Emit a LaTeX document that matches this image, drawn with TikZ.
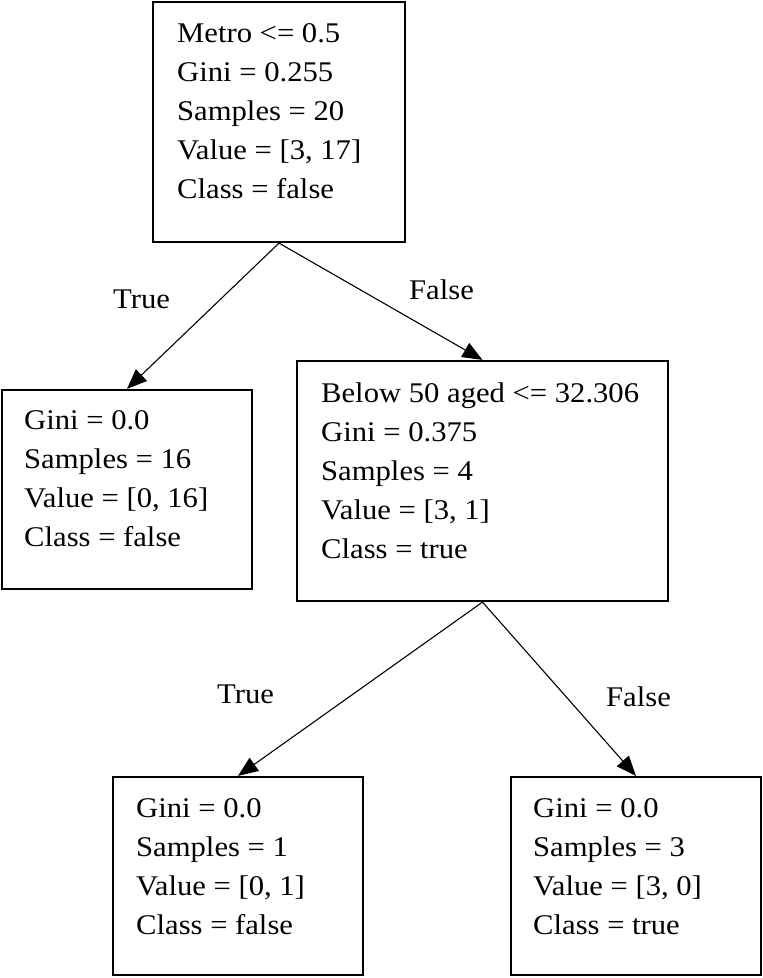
\documentclass[tikz,border=0pt]{standalone}
\usepackage{fontspec}
\setmainfont{Liberation Serif}[FakeStretch=1.075]
\usetikzlibrary{arrows.meta}
\newcommand{\boxlines}[1]{\fontsize{28.5}{39}\selectfont\begin{tabular}[t]{@{}l@{}}#1\end{tabular}}
\begin{document}
\begin{tikzpicture}[x=1pt,y=-1pt,
  treebox/.style={draw=black,line width=2.2pt,rectangle,inner sep=0pt,fill=white},
  boxtext/.style={anchor=base west,inner sep=0pt,align=left},
  edgelabel/.style={anchor=base west,inner sep=0pt,font=\fontsize{28.5}{34}\selectfont},
  conn/.style={draw=black,line width=1.1pt,-{Triangle[length=20pt,width=16pt]}}]
\useasboundingbox[fill=white] (0,0) rectangle (763,978);
% boxes
\node[treebox,minimum width=252pt,minimum height=240pt] (root) at (279,122) {};
\node[treebox,minimum width=250pt,minimum height=199pt] (leaf1) at (127,489.5) {};
\node[treebox,minimum width=371pt,minimum height=240pt] (mid) at (482.5,481) {};
\node[treebox,minimum width=250pt,minimum height=198pt] (leaf2) at (238,876) {};
\node[treebox,minimum width=250pt,minimum height=198pt] (leaf3) at (636,876) {};
% texts
\node[boxtext] (roottxt) at (177,42) {\boxlines{Metro <= 0.5\\Gini = 0.255\\Samples = 20\\Value = [3, 17]\\Class = false}};
\node[boxtext] (leaf1txt) at (24,429) {\boxlines{Gini = 0.0\\Samples = 16\\Value = [0, 16]\\Class = false}};
\node[boxtext] (midtxt) at (321,402) {\boxlines{Below 50 aged <= 32.306\\Gini = 0.375\\Samples = 4\\Value = [3, 1]\\Class = true}};
\node[boxtext] (leaf2txt) at (136,817) {\boxlines{Gini = 0.0\\Samples = 1\\Value = [0, 1]\\Class = false}};
\node[boxtext] (leaf3txt) at (533,817) {\boxlines{Gini = 0.0\\Samples = 3\\Value = [3, 0]\\Class = true}};
% connectors
\draw[conn] (root.south) -- (leaf1.north);
\draw[conn] (root.south) -- (mid.north);
\draw[conn] (mid.south) -- (leaf2.north);
\draw[conn] (mid.south) -- (leaf3.north);
% labels
\node[edgelabel] (t1) at (113,308) {True};
\node[edgelabel] (f1) at (409,299) {False};
\node[edgelabel] (t2) at (217,703) {True};
\node[edgelabel] (f2) at (606,706) {False};
\end{tikzpicture}
\end{document}
